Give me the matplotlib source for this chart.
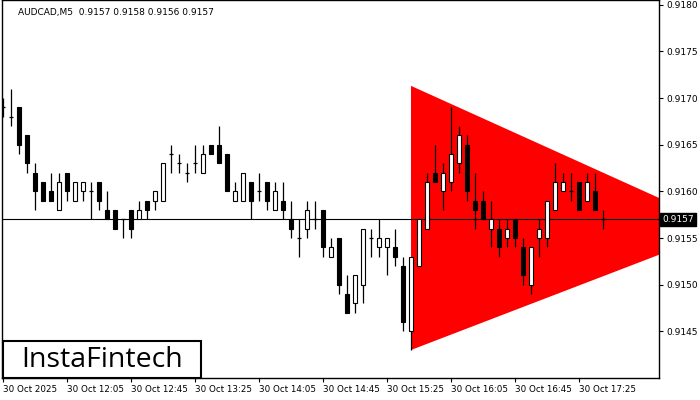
import matplotlib
matplotlib.use("Agg")
import matplotlib.pyplot as plt
from matplotlib.patches import Polygon, Rectangle

symbol_title = "AUDCAD,M5  0.9157 0.9158 0.9156 0.9157"

opens = [0.9169, 0.9168, 0.9169, 0.9166, 0.9162, 0.9161, 0.9160, 0.9158, 0.9162, 0.9159,
         0.9160, 0.9160, 0.9161, 0.9158, 0.9158, 0.9157, 0.9158, 0.9157, 0.9159, 0.9159,
         0.9159, 0.9164, 0.9163, 0.9162, 0.9163, 0.9162, 0.9165, 0.9165, 0.9164, 0.9159,
         0.9159, 0.9161, 0.9160, 0.9161, 0.9158, 0.9159, 0.9157, 0.9155, 0.9156, 0.9157,
         0.9158, 0.9153, 0.9155, 0.9149, 0.9148, 0.9150, 0.9155, 0.9154, 0.9154, 0.9154,
         0.9152, 0.9145, 0.9152, 0.9156, 0.9162, 0.9160, 0.9161, 0.9163, 0.9165, 0.9159,
         0.9159, 0.9156, 0.9156, 0.9155, 0.9157, 0.9154, 0.9150, 0.9155, 0.9155, 0.9158,
         0.9160, 0.9160, 0.9161, 0.9159, 0.9160, 0.9157]
highs = [0.9170, 0.9171, 0.9169, 0.9166, 0.9163, 0.9161, 0.9162, 0.9162, 0.9162, 0.9161,
         0.9161, 0.9161, 0.9161, 0.9160, 0.9158, 0.9157, 0.9158, 0.9159, 0.9159, 0.9160,
         0.9163, 0.9165, 0.9164, 0.9163, 0.9165, 0.9165, 0.9165, 0.9167, 0.9164, 0.9161,
         0.9162, 0.9161, 0.9162, 0.9161, 0.9161, 0.9161, 0.9159, 0.9157, 0.9159, 0.9159,
         0.9158, 0.9155, 0.9155, 0.9151, 0.9151, 0.9156, 0.9156, 0.9157, 0.9155, 0.9156,
         0.9153, 0.9153, 0.9157, 0.9162, 0.9165, 0.9163, 0.9169, 0.9167, 0.9166, 0.9162,
         0.9160, 0.9159, 0.9157, 0.9157, 0.9157, 0.9155, 0.9154, 0.9157, 0.9159, 0.9163,
         0.9162, 0.9162, 0.9161, 0.9162, 0.9162, 0.9158]
lows = [0.9168, 0.9167, 0.9164, 0.9162, 0.9158, 0.9159, 0.9159, 0.9158, 0.9159, 0.9159,
        0.9159, 0.9157, 0.9158, 0.9157, 0.9156, 0.9155, 0.9155, 0.9157, 0.9157, 0.9158,
        0.9159, 0.9162, 0.9162, 0.9161, 0.9162, 0.9162, 0.9164, 0.9163, 0.9160, 0.9159,
        0.9159, 0.9157, 0.9159, 0.9158, 0.9158, 0.9157, 0.9155, 0.9153, 0.9155, 0.9156,
        0.9153, 0.9153, 0.9149, 0.9147, 0.9147, 0.9148, 0.9153, 0.9153, 0.9151, 0.9152,
        0.9145, 0.9143, 0.9152, 0.9156, 0.9161, 0.9158, 0.9160, 0.9162, 0.9159, 0.9156,
        0.9157, 0.9154, 0.9153, 0.9154, 0.9154, 0.9150, 0.9149, 0.9153, 0.9154, 0.9158,
        0.9160, 0.9159, 0.9158, 0.9159, 0.9158, 0.9156]
closes = [0.9169, 0.9168, 0.9165, 0.9163, 0.9160, 0.9159, 0.9159, 0.9161, 0.9160, 0.9161,
          0.9161, 0.9160, 0.9159, 0.9157, 0.9156, 0.9157, 0.9156, 0.9158, 0.9158, 0.9160,
          0.9163, 0.9164, 0.9163, 0.9162, 0.9163, 0.9164, 0.9164, 0.9163, 0.9160, 0.9160,
          0.9162, 0.9159, 0.9160, 0.9159, 0.9160, 0.9158, 0.9156, 0.9155, 0.9158, 0.9157,
          0.9154, 0.9154, 0.9150, 0.9147, 0.9151, 0.9156, 0.9155, 0.9155, 0.9155, 0.9153,
          0.9146, 0.9153, 0.9157, 0.9161, 0.9161, 0.9162, 0.9164, 0.9166, 0.9160, 0.9158,
          0.9157, 0.9157, 0.9154, 0.9156, 0.9155, 0.9151, 0.9154, 0.9156, 0.9159, 0.9161,
          0.9161, 0.9160, 0.9158, 0.9161, 0.9158, 0.9157]

# triangle pattern: (bar index, price)
tri_bars = [51, 51, 90.5]
tri_prices = [0.91713, 0.91430, 0.91560]

last_price = 0.9157
tick_bars = [0, 8, 16, 24, 32, 40, 48, 56, 64, 72]
tick_labels = ["30 Oct 2025", "30 Oct 12:05", "30 Oct 12:45", "30 Oct 13:25", "30 Oct 14:05",
               "30 Oct 14:45", "30 Oct 15:25", "30 Oct 16:05", "30 Oct 16:45", "30 Oct 17:25"]
y_ticks = [0.9145, 0.9150, 0.9155, 0.9160, 0.9165, 0.9170, 0.9175, 0.9180]

plt.rcParams['font.family'] = ['DejaVu Sans']

fig = plt.figure(figsize=(7, 4), dpi=100)
fig.patch.set_facecolor('white')
ax = fig.add_axes([2/700, 22/400, 657/700, 378/400])
ax.set_xlim(-0.125, 82)
ax.set_ylim(0.91400, 0.91805)

# triangle
tri = Polygon(list(zip(tri_bars, tri_prices)), closed=True, facecolor='#ff0000',
              edgecolor='none', zorder=1)
ax.add_patch(tri)

# last price line
ax.axhline(last_price, color='black', linewidth=0.8, zorder=2)

bw = 0.62
for i, (o, h, l, c) in enumerate(zip(opens, highs, lows, closes)):
    ax.vlines(i, l, h, color='black', linewidth=0.9, zorder=3)
    lo, hi = min(o, c), max(o, c)
    if hi - lo < 1e-9:
        ax.hlines(o, i - bw/2, i + bw/2, color='black', linewidth=0.9, zorder=4)
    else:
        fc = 'white' if c > o else 'black'
        ax.add_patch(Rectangle((i - bw/2, lo), bw, hi - lo, facecolor=fc,
                               edgecolor='black', linewidth=0.8, zorder=4))

# axes styling
for s in ax.spines.values():
    s.set_color('black')
    s.set_linewidth(1.0)
ax.yaxis.tick_right()
ax.set_yticks(y_ticks)
ax.set_yticklabels([f"{v:.4f}" for v in y_ticks], fontsize=6.5, color='black')
ax.set_xticks(tick_bars)
ax.set_xticklabels(tick_labels, fontsize=6.3, ha='left', color='black')
ax.tick_params(axis='both', direction='out', length=3, width=0.8, pad=2)

# last price box
ax.text(1.005, last_price, f"{last_price:.4f}", transform=ax.get_yaxis_transform(),
        fontsize=6.5, color='white', va='center', ha='left',
        bbox=dict(boxstyle='square,pad=0.2', facecolor='black', edgecolor='black'),
        zorder=10, clip_on=False)

# title
fig.text(18/700, 1 - 12/400, symbol_title, fontsize=6.5, color='black', va='center', ha='left')

# logo
fig.add_artist(Rectangle((3/700, 22/400), 198/700, 37/400, transform=fig.transFigure,
                         facecolor='white', edgecolor='black', linewidth=1.5, zorder=20))
fig.text(102/700, 1 - 360/400, "InstaFintech", fontsize=20.5, color='black',
         va='center', ha='center', zorder=21, family=['Open Sans', 'DejaVu Sans'])

fig.savefig("out.png", dpi=100, facecolor='white')
